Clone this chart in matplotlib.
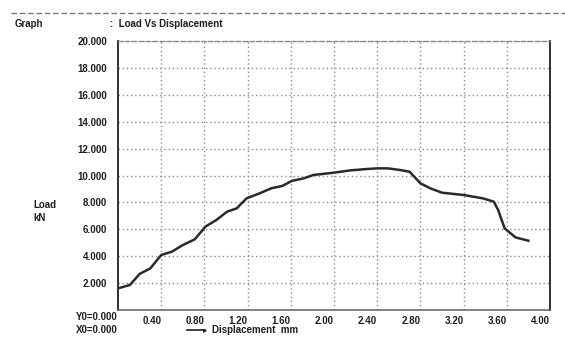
import matplotlib.pyplot as plt

# curve
displacement = [0.00, 0.11, 0.20, 0.30, 0.40, 0.50, 0.60, 0.71, 0.81, 0.91,
                1.01, 1.10, 1.19, 1.31, 1.42, 1.52, 1.61, 1.72, 1.81, 1.99,
                2.15, 2.30, 2.40, 2.50, 2.61, 2.70, 2.80, 2.89, 3.00, 3.20,
                3.38, 3.48, 3.52, 3.58, 3.68, 3.80]
load = [1.61, 1.86, 2.68, 3.10, 4.09, 4.34, 4.83, 5.25, 6.20, 6.69,
        7.31, 7.56, 8.30, 8.67, 9.05, 9.22, 9.60, 9.79, 10.04, 10.20,
        10.38, 10.48, 10.53, 10.53, 10.41, 10.28, 9.42, 9.05, 8.72, 8.55,
        8.30, 8.05, 7.43, 6.07, 5.40, 5.15]

x_ticks = [0.4, 0.8, 1.2, 1.6, 2.0, 2.4, 2.8, 3.2, 3.6, 4.0]
x_labels = ['0.40', '0.80', '1.20', '1.60', '2.00', '2.40', '2.80', '3.20', '3.60', '4.00']
y_ticks = [2, 4, 6, 8, 10, 12, 14, 16, 18, 20]
y_labels = ['2.000', '4.000', '6.000', '8.000', '10.000', '12.000',
            '14.000', '16.000', '18.000', '20.000']

plt.rcParams['font.family'] = ['Liberation Sans', 'DejaVu Sans']
ink = '#1e1e1e'

fig = plt.figure(figsize=(5.65, 3.37), dpi=100)
ax = fig.add_axes([118 / 565, 1 - 310 / 337, 432 / 565, 269 / 337])

ax.plot(displacement, load, color='#2a2a2a', linewidth=1.8)

ax.set_xlim(0, 4.0)
ax.set_ylim(0, 20)
ax.set_xticks(x_ticks)
ax.set_xticklabels(x_labels, ha='right', fontsize=7, fontweight='bold', color=ink)
ax.set_yticks(y_ticks)
ax.set_yticklabels(y_labels, fontsize=7, fontweight='bold', color=ink)
ax.tick_params(axis='both', length=0)
ax.tick_params(axis='x', pad=4)
ax.tick_params(axis='y', pad=8)

ax.grid(True, color='#8c8c8c', linestyle=(0, (1, 2)), linewidth=1.0)

for side in ['left', 'right']:
    ax.spines[side].set_color('#303030')
    ax.spines[side].set_linewidth(1.4)
ax.spines['bottom'].set_color('#606060')
ax.spines['bottom'].set_linewidth(1.1)
ax.spines['top'].set_color('#8a8a8a')
ax.spines['top'].set_linestyle((0, (3, 2)))
ax.spines['top'].set_linewidth(1.0)

# header line from the scan
fig.add_artist(plt.Line2D([0.02, 1.0], [1 - 13 / 337, 1 - 13 / 337],
                          color='#7a7a7a', linestyle=(0, (4, 2)), linewidth=1.0))

fig.text(15 / 565, 1 - 24 / 337, 'Graph', fontsize=7, fontweight='bold',
         color=ink, va='center')
fig.text(110 / 565, 1 - 24 / 337, ':  Load Vs Displacement', fontsize=7,
         fontweight='bold', color=ink, va='center')

fig.text(33 / 565, 1 - 205 / 337, 'Load', fontsize=7, fontweight='bold',
         color=ink, va='center')
fig.text(33 / 565, 1 - 218 / 337, 'kN', fontsize=7, fontweight='bold',
         color=ink, va='center')

fig.text(118 / 565, 1 - 317 / 337, 'Y0=0.000', fontsize=7, fontweight='bold',
         color=ink, va='center', ha='right')
fig.text(118 / 565, 1 - 330 / 337, 'X0=0.000', fontsize=7, fontweight='bold',
         color=ink, va='center', ha='right')

fig.add_artist(plt.Line2D([187 / 565, 205 / 565], [1 - 330 / 337, 1 - 330 / 337],
                          color=ink, linewidth=1.2))
fig.text(203 / 565, 1 - 330 / 337, '\u25b8', fontsize=6, color=ink,
         va='center', ha='left', family=['DejaVu Sans'])
fig.text(212 / 565, 1 - 330 / 337, 'Displacement  mm', fontsize=7,
         fontweight='bold', color=ink, va='center')

fig.savefig('out.png', dpi=100)
